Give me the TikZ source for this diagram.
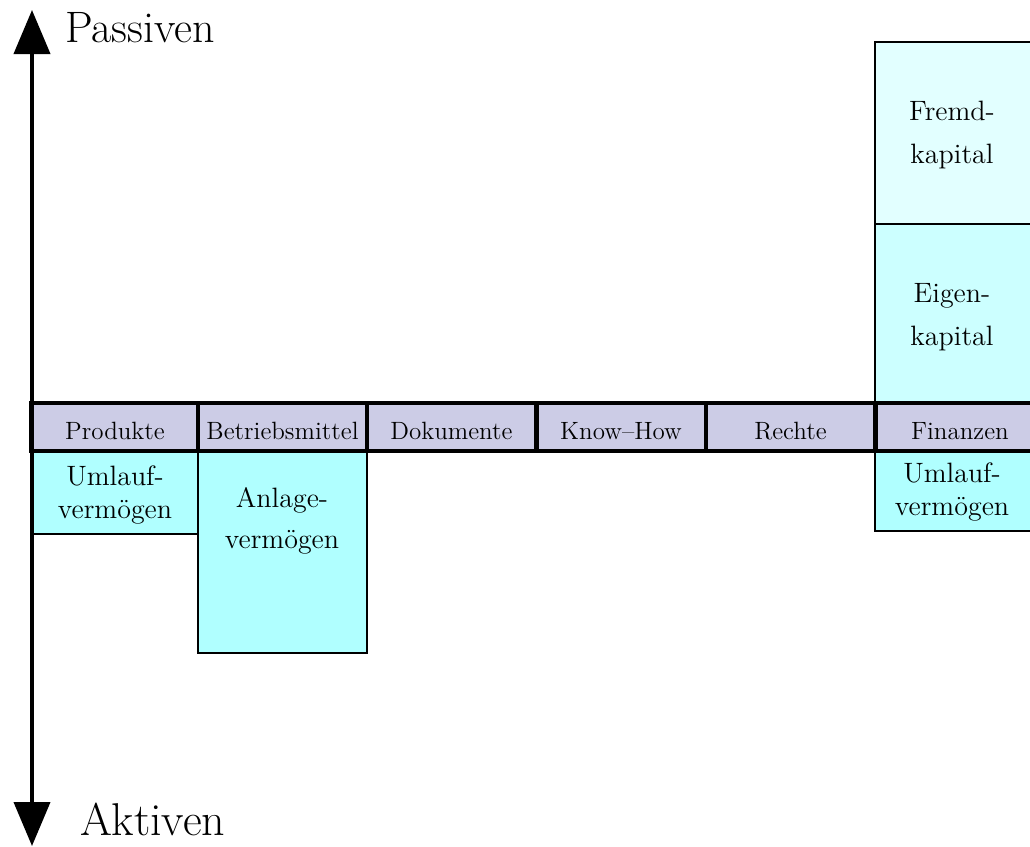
\documentclass[tikz,border=0pt]{standalone}
\usetikzlibrary{arrows.meta}
\definecolor{katfill}{RGB}{204,204,230}
\definecolor{aktfill}{RGB}{176,255,255}
\definecolor{eigfill}{RGB}{204,255,255}
\definecolor{fremdfill}{RGB}{226,255,255}
\begin{document}
\begin{tikzpicture}[x=0.5pt, y=-0.5pt,
	every node/.style={inner sep=0pt, outer sep=0pt},
	kat/.style={rectangle, draw, line width=2pt, fill=katfill, minimum width=84.5pt, minimum height=24pt, text height=12pt, text depth=-2pt, font=\fontsize{12.5}{14}\selectfont},
	posten/.style={rectangle, draw, line width=0.8pt, anchor=north west},
	txt/.style={align=center, font=\fontsize{14}{16.5}\selectfont},
	achse/.style={line width=2pt, {Triangle[length=22pt,width=18pt]}-{Triangle[length=22pt,width=18pt]}}
]
\useasboundingbox (0,0) rectangle (1030,847);
% Posten unter und ueber der Leiste
\node[posten, fill=aktfill, minimum width=83pt, minimum height=41.5pt] (uv1) at (32,451) {};
\node[posten, fill=aktfill, minimum width=84.5pt, minimum height=101pt] (av) at (198,451) {};
\node[posten, fill=aktfill, minimum width=90pt, minimum height=40pt] (uv2) at (875,451) {};
\node[posten, fill=eigfill, minimum width=90pt, minimum height=89.5pt] (ek) at (875,224) {};
\node[posten, fill=fremdfill, minimum width=90pt, minimum height=91pt] (fk) at (875,42) {};
\node[txt] (uv1t) at (115,495) {Umlauf-\\vermögen};
\node[txt] (avt) at (282,521) {Anlage-\\[4pt]vermögen};
\node[txt] (uv2t) at (952,492) {Umlauf-\\vermögen};
\node[txt] (ekt) at (952,317) {Eigen-\\[5pt]kapital};
\node[txt] (fkt) at (952,135) {Fremd-\\[5pt]kapital};
% Leiste
\foreach[count=\i] \x\n in {
	115/Produkte
	,282.5/Betriebsmittel
	,451.5/Dokumente
	,621/Know--How
	,790.5/Rechte
	,960/Finanzen
}{
	\node[kat] (k\i) at (\x,427) {\n};
}
% Achse
\coordinate (oben) at (32,10);
\coordinate (unten) at (32,846);
\draw[achse] (unten) -- (oben);
\node[anchor=base west, font=\fontsize{22}{26}\selectfont] (passiv) at (65,42) {Passiven};
\node[anchor=base west, font=\fontsize{23}{26}\selectfont] (aktiv) at (80,835) {Aktiven};
\end{tikzpicture}
\end{document}
